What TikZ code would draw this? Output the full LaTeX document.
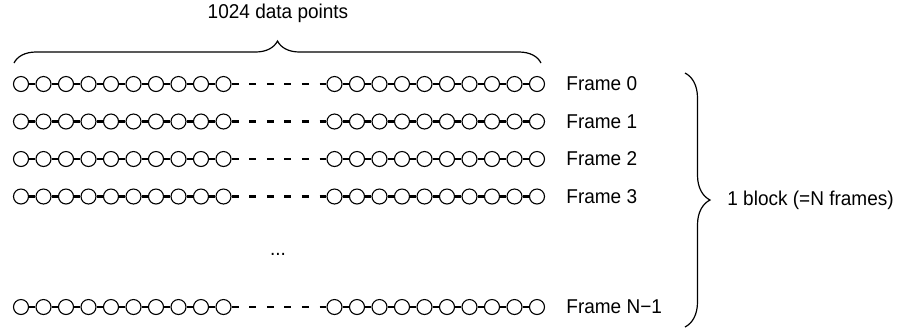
\documentclass[tikz,border=0pt]{standalone}
\usepackage{fontspec}
\setmainfont{Liberation Sans}[FakeStretch=0.95]
\usetikzlibrary{decorations.pathreplacing}

\tikzset{
  sample/.style={circle, draw, line width=0.55pt, fill=white, minimum size=7.5pt, inner sep=0pt},
  link/.style={line width=1.3pt},
  gaplink/.style={line width=1.3pt, dash pattern=on 3.5pt off 5.3pt},
  lab/.style={font=\fontsize{10}{12}\selectfont, inner sep=0pt},
  curly/.style={decorate, decoration={brace, amplitude=#1}, line width=0.6pt}
}

\begin{document}
\begin{tikzpicture}[x=0.5pt, y=-0.5pt]
    \useasboundingbox (0,0) rectangle (901,329);

    % Frames: two runs of samples joined by a dashed gap
    \foreach \r/\y/\lab in {0/84/{Frame 0}, 1/121.5/{Frame 1}, 2/159/{Frame 2}, 3/196.5/{Frame 3}, 4/307/{Frame N−1}} {
        \foreach \i in {1,...,10} {
            \node[sample] (a\r-\i) at ({21+22.5*(\i-1)}, \y) {};
            \node[sample] (b\r-\i) at ({334.5+22.5*(\i-1)}, \y) {};
        }
        \foreach \i [count=\j from 2] in {1,...,9} {
            \draw[link] (a\r-\i) -- (a\r-\j);
            \draw[link] (b\r-\i) -- (b\r-\j);
        }
        \draw[gaplink] (a\r-10) -- (b\r-1);
        \node[lab, anchor=west] (f\r) at (566, \y) {\lab};
    }

    % Skipped frames
    \node[lab] (dots) at (278, 254) {...};

    % Top brace
    \coordinate (tl) at (14, 63);
    \coordinate (tr) at (541, 63);
    \draw[curly=11pt] (tl) -- (tr);
    \node[lab] (pts) at (278, 13) {1024 data points};

    % Right brace
    \coordinate (bt) at (685, 73);
    \coordinate (bb) at (685, 327);
    \draw[curly=12.5pt] (bt) -- (bb);
    \node[lab, anchor=west] (blk) at (727, 200) {1 block (=N frames)};
\end{tikzpicture}
\end{document}
